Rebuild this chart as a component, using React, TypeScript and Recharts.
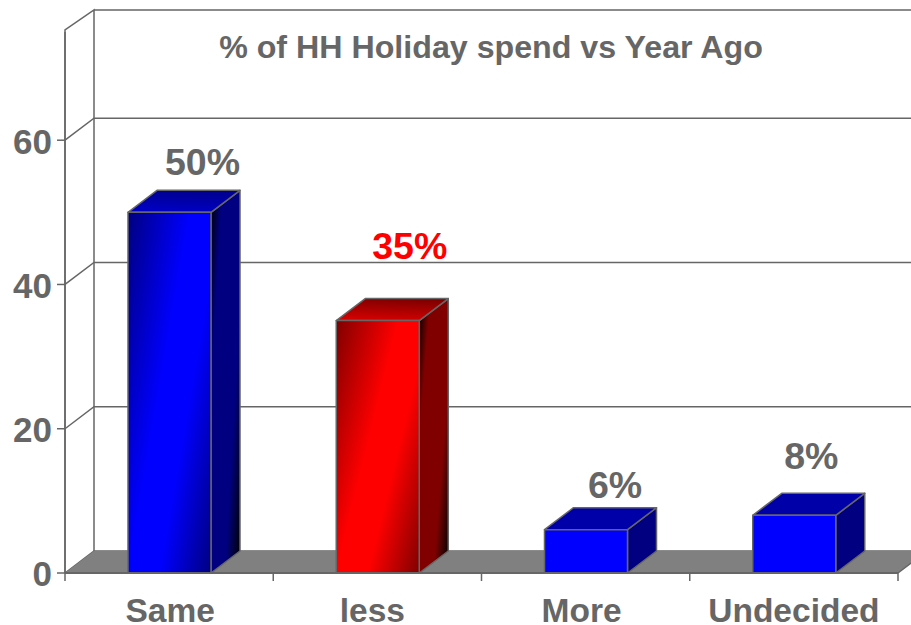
import React from "react";
import { BarChart, Bar, XAxis, YAxis, CartesianGrid, LabelList, ReferenceArea } from "recharts";

const categories = ["Same", "less", "More", "Undecided"];
const values = [50, 35, 6, 8];
const valueLabels = ["50%", "35%", "6%", "8%"];
const labelColors = ["#666666", "#ff0000", "#666666", "#666666"];
const labelShiftX = [33, 32, 29, 17];
const labelRise = [37, 62, 32, 46];
const categoryShiftX = [1, -5, -4, 0];
const yTicks = [0, 20, 40, 60];
const title = "% of HH Holiday spend vs Year Ago";

const data = categories.map((name, i) => ({ name, value: values[i] }));

const W = 911, H = 625;
const LEFT = 65, RIGHT = 13, BOTTOM = 52, TOP = 32;
const DX = 29, DY = 22;
const GRAY = "#666666";
const FONT = "'Liberation Sans', Arial, sans-serif";
const BAND = (W - LEFT - RIGHT) / categories.length;

const Walls = (p: any) => {
  const { x, y, width, height } = p;
  const b = y + height;
  const r = x + width;
  const frontTop = y - 2;
  const backTop = y - 22;
  return (
    <g>
      <polygon points={`${x},${b} ${x + DX},${b - DY} ${r + DX},${b - DY} ${r},${b}`} fill="#808080" />
      <path
        d={`M${x},${b} L${x},${frontTop} L${x + DX},${backTop} L${x + DX},${b - DY} M${x + DX},${backTop} L${r + DX},${backTop} M${r},${b} L${r + DX},${b - DY}`}
        fill="none" stroke={GRAY} strokeWidth={1.5}
      />
      <text x={491} y={58} textAnchor="middle" fontFamily={FONT} fontWeight="bold" fontSize={32.2} fill={GRAY}>{title}</text>
    </g>
  );
};

const GridLine = (p: any) => {
  const { x1, y1, x2 } = p;
  if (y1 <= TOP + 1) return <g />;
  return (
    <path d={`M${x1},${y1} L${x1 + DX},${y1 - DY} L${x2 + DX},${y1 - DY}`} fill="none" stroke={GRAY} strokeWidth={1.5} />
  );
};

const Box = (p: any) => {
  const { x, y, width, height, index } = p;
  const tall = index < 2;
  const hue = index === 1 ? "red" : "blue";
  const front = tall ? `url(#front-${hue})` : "#0000ff";
  const side = tall ? `url(#side-${hue})` : "#000080";
  const top = tall ? `url(#top-${hue})` : "#0000a8";
  const r = x + width, b = y + height;
  return (
    <g stroke={GRAY} strokeWidth={1.5} strokeLinejoin="round">
      <polygon points={`${r},${y} ${r + DX},${y - DY} ${r + DX},${b - DY} ${r},${b}`} fill={side} />
      <polygon points={`${x},${y} ${x + DX},${y - DY} ${r + DX},${y - DY} ${r},${y}`} fill={top} />
      <rect x={x} y={y} width={width} height={height} fill={front} />
    </g>
  );
};

const PercentLabel = (p: any) => {
  const { x, y, width, index } = p;
  return (
    <text
      x={x + width / 2 + labelShiftX[index]}
      y={y - labelRise[index]}
      textAnchor="middle"
      fontFamily={FONT}
      fontWeight="bold"
      fontSize={37.5}
      fill={labelColors[index]}
    >
      {valueLabels[index]}
    </text>
  );
};

const CategoryTick = (p: any) => {
  const { x, index, payload } = p;
  const base = H - BOTTOM;
  const left = x - BAND / 2;
  const last = index === categories.length - 1;
  return (
    <g>
      <path
        d={`M${left},${base} V${base + 8}${last ? ` M${left + BAND},${base} V${base + 8}` : ""}`}
        stroke={GRAY} strokeWidth={1.5} fill="none"
      />
      <text x={x + categoryShiftX[index]} y={base + 49} textAnchor="middle" fontFamily={FONT} fontWeight="bold" fontSize={33.5} fill={GRAY}>
        {payload.value}
      </text>
    </g>
  );
};

const grad = (id: string, stops: [number, string][], v = { x1: 0, y1: 0, x2: 1.12, y2: 0.84 }) => (
  <linearGradient id={id} x1={v.x1} y1={v.y1} x2={v.x2} y2={v.y2}>
    {stops.map(([o, c]) => <stop key={o} offset={o} stopColor={c} />)}
  </linearGradient>
);

const TOP_DIR = { x1: 0.45, y1: 0, x2: 0.25, y2: 1 };

export default function App() {
  return (
    <div style={{ position: "absolute", left: 0, top: 0, width: W, height: H, background: "#fff", overflow: "hidden" }}>
      <BarChart width={W} height={H} data={data} barSize={83} margin={{ top: TOP, right: RIGHT, bottom: 0, left: 0 }}>
        <defs>
          {grad("front-blue", [[0, "#000080"], [0.43, "#0000ff"], [0.64, "#0000ff"], [1, "#000080"]])}
          {grad("side-blue", [[0, "#000000"], [0.08, "#000030"], [0.22, "#000080"], [0.7, "#000080"], [0.92, "#000020"], [1, "#000000"]])}
          {grad("top-blue", [[0, "#000090"], [1, "#0000c8"]], TOP_DIR)}
          {grad("front-red", [[0, "#800000"], [0.43, "#ff0000"], [0.64, "#ff0000"], [1, "#800000"]])}
          {grad("side-red", [[0, "#000000"], [0.08, "#300000"], [0.22, "#800000"], [0.7, "#800000"], [0.92, "#200000"], [1, "#000000"]])}
          {grad("top-red", [[0, "#800000"], [1, "#d80000"]], TOP_DIR)}
        </defs>
        <ReferenceArea y1={0} y2={75} shape={Walls} fill="none" stroke="none" />
        <CartesianGrid vertical={false} horizontal={GridLine as any} />
        <XAxis
          dataKey="name"
          height={BOTTOM}
          axisLine={{ stroke: GRAY, strokeWidth: 2 }}
          tickLine={false}
          tick={CategoryTick}
          interval={0}
        />
        <YAxis
          width={LEFT}
          domain={[0, 75]}
          ticks={yTicks}
          axisLine={{ stroke: GRAY, strokeWidth: 1.5 }}
          tickLine={{ stroke: GRAY, strokeWidth: 1.5 }}
          tickSize={8}
          tickMargin={5}
          tick={{ fontFamily: FONT, fontWeight: "bold", fontSize: 35, fill: GRAY, dy: 1 }}
          interval={0}
        />
        <Bar dataKey="value" shape={Box} isAnimationActive={false}>
          <LabelList dataKey="value" content={PercentLabel} />
        </Bar>
      </BarChart>
    </div>
  );
}
